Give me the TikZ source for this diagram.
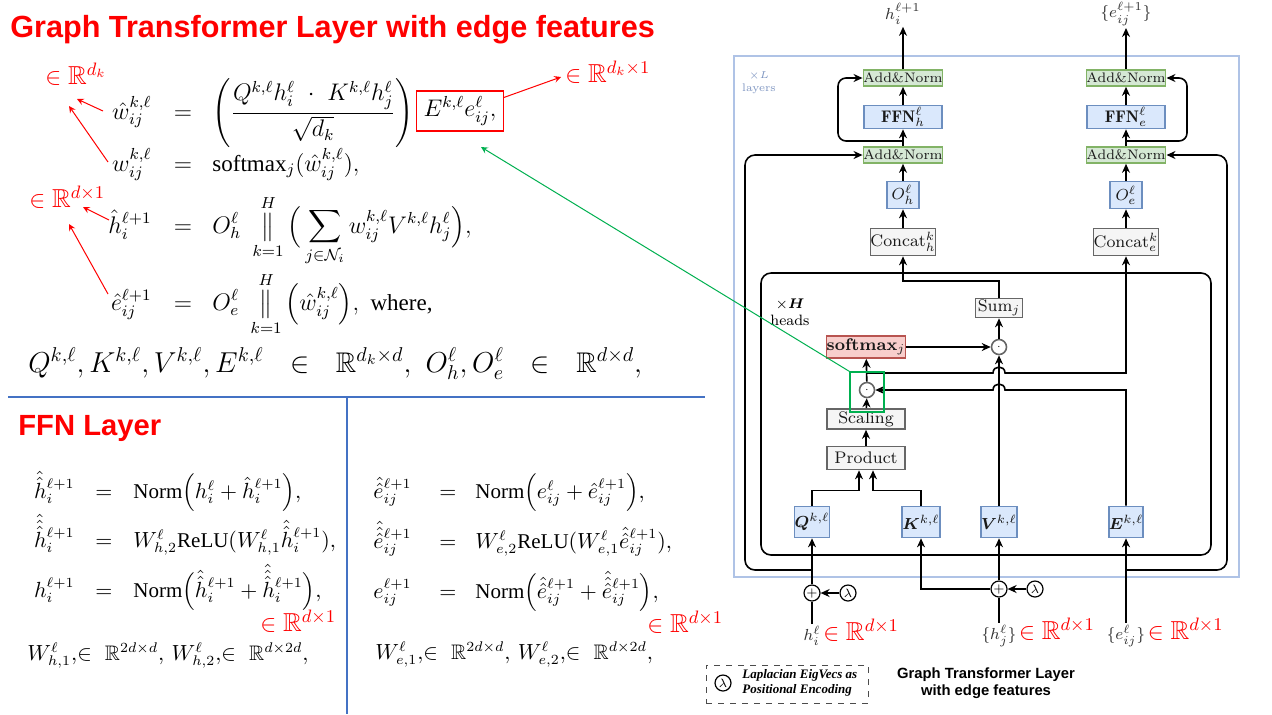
\documentclass[tikz,border=0pt]{standalone}
\usepackage{amsmath,amssymb}
\usepackage{fontspec}
\newfontfamily\sansbold{Liberation Sans}
\newfontfamily\timesrm{Liberation Serif}
\usetikzlibrary{positioning,arrows.meta}
\definecolor{anfill}{HTML}{D5E8D4}
\definecolor{andraw}{HTML}{82B366}
\definecolor{blfill}{HTML}{DAE8FC}
\definecolor{bldraw}{HTML}{6C8EBF}
\definecolor{gyfill}{HTML}{F5F5F5}
\definecolor{gydraw}{HTML}{666666}
\definecolor{rdfill}{HTML}{F8CECC}
\definecolor{rddraw}{HTML}{B85450}
\definecolor{layerblue}{HTML}{AFC3E6}
\definecolor{layertext}{HTML}{7F96C2}
\definecolor{sepblue}{HTML}{4472C4}
\definecolor{mkgreen}{HTML}{00B050}
\newcommand{\tm}[1]{\text{\timesrm #1}}
\begin{document}
\begin{tikzpicture}[x=0.5pt, y=-0.5pt,
    arr/.style={->, thick, >={Stealth[length=4.5pt,width=4pt]}},
    ann/.style={->, red, line width=0.5pt, >=stealth},
    blk/.style={draw, line width=0.8pt, inner sep=0pt, text=black!90, font=\fontsize{8.4}{9}\selectfont},
    anbox/.style={blk, fill=anfill, draw=andraw, minimum width=35pt, minimum height=8pt, font=\fontsize{6.9}{7.5}\selectfont},
    vecbox/.style={blk, fill=blfill, draw=bldraw},
    opbox/.style={blk, fill=gyfill, draw=gydraw},
    dotc/.style={circle, draw=gydraw, fill=white, line width=0.8pt, minimum size=7.5pt, inner sep=0pt, font=\fontsize{4}{4}\selectfont},
    addc/.style={circle, draw, fill=white, line width=0.6pt, minimum size=8pt, inner sep=0pt, font=\fontsize{6}{6}\selectfont},
    fm/.style={inner sep=0pt, font=\fontsize{11.5}{14}\selectfont},
    ffm/.style={inner sep=0pt, font=\fontsize{10.5}{13}\selectfont},
    rlab/.style={inner sep=0pt, text=red, font=\fontsize{13}{15}\selectfont},
    io/.style={inner sep=1pt, text=black!80, font=\fontsize{8.5}{10}\selectfont}]
  \path[fill=white] (0,0) rectangle (1272,714);
  \useasboundingbox (0,0) rectangle (1272,714);

  \node[anchor=base west, inner sep=0pt, text=red, font=\sansbold\bfseries\fontsize{15.3}{18}\selectfont] (title) at (10,37) {Graph Transformer Layer with edge features};
  \node[anchor=base west, inner sep=0pt, text=red, font=\sansbold\bfseries\fontsize{14.6}{18}\selectfont] (ffntitle) at (18,435) {FFN Layer};
  \draw[sepblue, line width=0.6pt] (8,397) -- (705,397);
  \draw[sepblue, line width=0.6pt] (347,397) -- (347,714);

  \node[fm, anchor=base east] (whead) at (152,119) {$\hat{w}_{ij}^{k,\ell}$};
  \node[fm, anchor=base] (eqa) at (183,119) {$=$};
  \node[fm, anchor=base west] (rhsa) at (212,119) {$\displaystyle\left(\frac{Q^{k,\ell}h_i^\ell\ \cdot\ K^{k,\ell}h_j^\ell}{\sqrt{d_k}}\right)\ \cdot$};
  \node[fm, draw=red, line width=0.6pt, minimum width=43.5pt, minimum height=20pt] (ebx) at (460,111) {$E^{k,\ell}e_{ij}^\ell,$};
  \node[fm, anchor=base east] (wsoft) at (152,171) {$w_{ij}^{k,\ell}$};
  \node[fm, anchor=base] (eqb) at (183,171) {$=$};
  \node[fm, anchor=base west] (rhsb) at (212,171) {$\tm{softmax}_j(\hat{w}_{ij}^{k,\ell}),$};
  \node[fm, anchor=base east] (hhead) at (152,233) {$\hat{h}_i^{\ell+1}$};
  \node[fm, anchor=base] (eqc) at (183,233) {$=$};
  \node[fm, anchor=base west] (rhsc) at (212,233) {$\displaystyle O_h^\ell\ \mathop{\big\Vert}\limits_{k=1}^{H}\Big(\sum_{j\in\mathcal{N}_i} w_{ij}^{k,\ell}V^{k,\ell}h_j^\ell\Big),$};
  \node[fm, anchor=base east] (ehead) at (152,310) {$\hat{e}_{ij}^{\ell+1}$};
  \node[fm, anchor=base] (eqd) at (183,310) {$=$};
  \node[fm, anchor=base west] (rhsd) at (212,310) {$\displaystyle O_e^\ell\ \mathop{\big\Vert}\limits_{k=1}^{H}\Big(\hat{w}_{ij}^{k,\ell}\Big),\ \tm{where,}$};
  \node[fm, anchor=base west, font=\fontsize{14.2}{17}\selectfont] (dims) at (28,372) {$Q^{k,\ell},K^{k,\ell},V^{k,\ell},E^{k,\ell}\ \ \in\ \ \mathbb{R}^{d_k\times d},\ O_h^\ell,O_e^\ell\ \ \in\ \ \mathbb{R}^{d\times d},$};

  \node[rlab, anchor=base west] (rdk) at (45,84) {$\in\mathbb{R}^{d_k}$};
  \node[rlab, anchor=base west] (rdkone) at (565,82) {$\in\mathbb{R}^{d_k\times1}$};
  \node[rlab, anchor=base west] (rdone) at (29,207) {$\in\mathbb{R}^{d\times1}$};
  \coordinate (ta) at (103,111);
  \coordinate (ha) at (77,99);
  \coordinate (tb) at (108,162);
  \coordinate (hb) at (69,106);
  \coordinate (tc) at (109,220);
  \coordinate (hc) at (83,207);
  \coordinate (td) at (108,294);
  \coordinate (hd) at (69,224);
  \coordinate (he) at (561,77);
  \draw[ann] (ta) -- (ha);
  \draw[ann] (tb) -- (hb);
  \draw[ann] (tc) -- (hc);
  \draw[ann] (td) -- (hd);
  \draw[ann] ([yshift=-3.5pt]ebx.north east) -- (he);

  \node[ffm, anchor=base east] (hha) at (75,498) {$\hat{\hat{h}}_i^{\ell+1}$};
  \node[ffm, anchor=base] (feqa) at (104,498) {$=$};
  \node[ffm, anchor=base west] (hra) at (133,498) {$\tm{Norm}\Big(h_i^\ell+\hat{h}_i^{\ell+1}\Big),$};
  \node[ffm, anchor=base east] (hhb) at (75,547) {$\hat{\hat{\hat{h}}}_i^{\ell+1}$};
  \node[ffm, anchor=base] (feqb) at (104,547) {$=$};
  \node[ffm, anchor=base west] (hrb) at (133,547) {$W_{h,2}^\ell\tm{ReLU}(W_{h,1}^\ell\hat{\hat{h}}_i^{\ell+1}),$};
  \node[ffm, anchor=base east] (hhc) at (75,597) {$h_i^{\ell+1}$};
  \node[ffm, anchor=base] (feqc) at (104,597) {$=$};
  \node[ffm, anchor=base west] (hrc) at (133,597) {$\tm{Norm}\Big(\hat{\hat{h}}_i^{\ell+1}+\hat{\hat{\hat{h}}}_i^{\ell+1}\Big),$};
  \node[rlab, anchor=base west] (hrr) at (260,631) {$\in\mathbb{R}^{d\times1}$};
  \node[ffm, anchor=base west] (hwd) at (27,660) {$W_{h,1}^\ell,\!\in\ \mathbb{R}^{2d\times d},\,W_{h,2}^\ell,\!\in\ \mathbb{R}^{d\times 2d},$};

  \node[ffm, anchor=base east] (eea) at (412,498) {$\hat{\hat{e}}_{ij}^{\ell+1}$};
  \node[ffm, anchor=base] (geqa) at (448,498) {$=$};
  \node[ffm, anchor=base west] (era) at (475,498) {$\tm{Norm}\Big(e_{ij}^\ell+\hat{e}_{ij}^{\ell+1}\Big),$};
  \node[ffm, anchor=base east] (eeb) at (412,548) {$\hat{\hat{\hat{e}}}_{ij}^{\ell+1}$};
  \node[ffm, anchor=base] (geqb) at (448,548) {$=$};
  \node[ffm, anchor=base west] (erb) at (475,548) {$W_{e,2}^\ell\tm{ReLU}(W_{e,1}^\ell\hat{\hat{e}}_{ij}^{\ell+1}),$};
  \node[ffm, anchor=base east] (eec) at (412,598) {$e_{ij}^{\ell+1}$};
  \node[ffm, anchor=base] (geqc) at (448,598) {$=$};
  \node[ffm, anchor=base west] (erc) at (475,598) {$\tm{Norm}\Big(\hat{\hat{e}}_{ij}^{\ell+1}+\hat{\hat{\hat{e}}}_{ij}^{\ell+1}\Big),$};
  \node[rlab, anchor=base west] (err) at (647,632) {$\in\mathbb{R}^{d\times1}$};
  \node[ffm, anchor=base west] (ewd) at (375,659) {$W_{e,1}^\ell,\!\in\ \mathbb{R}^{2d\times d},\,W_{e,2}^\ell,\!\in\ \mathbb{R}^{d\times 2d},$};

  \draw[layerblue, line width=1pt] (734,56) rectangle (1239,577);
  \node[align=center, inner sep=0pt, text=layertext, font=\fontsize{5.5}{6.5}\selectfont] (xl) at (759,83) {$\times L$\\layers};
  \draw[thick, rounded corners=5pt] (761,273) rectangle (1211,555);
  \node[align=center, inner sep=0pt, font=\fontsize{7.5}{8.5}\selectfont] (xh) at (790,312) {$\times\boldsymbol{H}$\\heads};

  \node[io] (hout) at (903,14) {$h_i^{\ell+1}$};
  \node[io] (eout) at (1126,14) {$\{e_{ij}^{\ell+1}\}$};
  \node[anbox] (anTh) at (903,78) {Add\&Norm};
  \node[anbox] (anTe) at (1126,78) {Add\&Norm};
  \node[vecbox, minimum width=39pt, minimum height=11.5pt] (ffnh) at (903,117) {$\mathbf{FFN}_h^\ell$};
  \node[vecbox, minimum width=39pt, minimum height=11.5pt] (ffne) at (1126,117) {$\mathbf{FFN}_e^\ell$};
  \node[anbox] (anBh) at (903,155) {Add\&Norm};
  \node[anbox] (anBe) at (1126,155) {Add\&Norm};
  \node[vecbox, minimum width=16pt, minimum height=13.5pt] (oh) at (903,195) {$O_h^\ell$};
  \node[vecbox, minimum width=16pt, minimum height=13.5pt] (oe) at (1126,195) {$O_e^\ell$};
  \node[opbox, minimum width=31pt, minimum height=13.5pt] (cath) at (903,242) {Concat$_h^k$};
  \node[opbox, minimum width=31pt, minimum height=13.5pt] (cate) at (1126,242) {Concat$_e^k$};
  \node[opbox, minimum width=23.5pt, minimum height=9.5pt] (sumj) at (999,308) {Sum$_j$};
  \node[blk, fill=rdfill, draw=rddraw, minimum width=39.5pt, minimum height=11pt] (soft) at (866,347) {\textbf{softmax}$_j$};
  \node[dotc] (dtwo) at (999,347) {$\cdot$};
  \node[dotc] (done) at (867,390) {$\cdot$};
  \node[opbox, minimum width=39pt, minimum height=10pt] (scal) at (866,419) {Scaling};
  \node[opbox, minimum width=39pt, minimum height=11.5pt] (prod) at (866,458) {Product};
  \node[vecbox, minimum width=16pt, minimum height=15.5pt] (qb) at (812,522) {$\boldsymbol{Q}^{k,\ell}$};
  \node[vecbox, minimum width=16pt, minimum height=15.5pt] (kb) at (921,522) {$\boldsymbol{K}^{k,\ell}$};
  \node[vecbox, minimum width=16pt, minimum height=15.5pt] (vb) at (999,522) {$\boldsymbol{V}^{k,\ell}$};
  \node[vecbox, minimum width=16pt, minimum height=15.5pt] (eb) at (1126,522) {$\boldsymbol{E}^{k,\ell}$};
  \node[addc] (pone) at (812,593) {$+$};
  \node[addc] (lone) at (848,593) {$\lambda$};
  \node[addc] (ptwo) at (999,589) {$+$};
  \node[addc] (ltwo) at (1035,589) {$\lambda$};
  \node[io] (hin) at (812,636) {$h_i^\ell$};
  \node[io] (hjin) at (999,636) {$\{h_j^\ell\}$};
  \node[io] (ein) at (1126,636) {$\{e_{ij}^\ell\}$};
  \node[rlab, anchor=base west] (hinr) at (hin.base east) {$\in\mathbb{R}^{d\times1}$};
  \node[rlab, anchor=base west] (hjinr) at (hjin.base east) {$\in\mathbb{R}^{d\times1}$};
  \node[rlab, anchor=base west] (einr) at (ein.base east) {$\in\mathbb{R}^{d\times1}$};

  \draw[arr] (anTh) -- (hout);
  \draw[arr] (anTe) -- (eout);
  \draw[arr] (ffnh) -- (anTh);
  \draw[arr] (ffne) -- (anTe);
  \draw[arr] (anBh) -- (ffnh);
  \draw[arr] (anBe) -- (ffne);
  \draw[arr] (oh) -- (anBh);
  \draw[arr] (oe) -- (anBe);
  \draw[arr] (cath) -- (oh);
  \draw[arr] (cate) -- (oe);
  \coordinate (rh) at (903,141);
  \coordinate (re) at (1126,141);
  \draw[arr, rounded corners=4pt] (rh) -| (838,78) -- (anTh.west);
  \draw[arr, rounded corners=4pt] (re) -| (1187,78) -- (anTe.east);
  \coordinate (qj) at (812,570);
  \coordinate (ej) at (1126,570);
  \draw[arr, rounded corners=5pt] (qj) -| (745,155) -- (anBh.west);
  \draw[arr, rounded corners=5pt] (ej) -| (1227,155) -- (anBe.east);

  \draw[arr] (sumj.north) |- (903,281) -- (cath.south);
  \draw[arr] (dtwo) -- (sumj);
  \draw[arr] (soft) -- (dtwo);
  \draw[arr] (done) -- (soft);
  \draw[arr] (scal) -- (done);
  \draw[arr] (prod) -- (scal);
  \coordinate (pq) at ([xshift=-3.5pt]prod.south);
  \coordinate (pk) at ([xshift=3.5pt]prod.south);
  \draw[arr] (qb.north) |- ([yshift=-10pt]pq) -- (pq);
  \draw[arr] (kb.north) |- ([yshift=-10pt]pk) -- (pk);
  \draw[arr] (vb) -- (dtwo);
  \draw[arr] (eb.north) |- (1005,390) .. controls (1005,382) and (993,382) .. (993,390) -- (done.east);
  \coordinate (br) at (867,373);
  \draw[arr] (br) -- (993,373) .. controls (993,365) and (1005,365) .. (1005,373) -| (cate.south);

  \draw[thick] (hin) -- (pone);
  \draw[arr] (pone) -- (qb);
  \draw[arr] (lone) -- (pone);
  \draw[thick] (hjin) -- (ptwo);
  \draw[arr] (ptwo) -- (vb);
  \draw[arr] (ptwo.west) -| (kb.south);
  \draw[arr] (ltwo) -- (ptwo);
  \draw[arr] (ein) -- (eb);

  \node[draw=mkgreen, line width=0.6pt, minimum width=17pt, minimum height=20pt] (gsel) at (867,392) {};
  \coordinate (gtip) at (481,147);
  \draw[->, mkgreen, line width=0.5pt, >=stealth] (gsel.north west) -- (gtip);

  \node[draw=black!70, dashed, line width=0.5pt, minimum width=81pt, minimum height=19pt] (legbox) at (787,684) {};
  \node[addc] (lleg) at (723,683) {$\lambda$};
  \node[anchor=west, align=left, inner sep=0pt, font=\timesrm\bfseries\itshape\fontsize{6.5}{7.8}\selectfont] (legtxt) at (742,683) {Laplacian EigVecs as\\Positional Encoding};
  \node[align=center, inner sep=0pt, font=\sansbold\bfseries\fontsize{7.4}{8.5}\selectfont] (capt) at (986,683) {Graph Transformer Layer\\with edge features};
\end{tikzpicture}
\end{document}
